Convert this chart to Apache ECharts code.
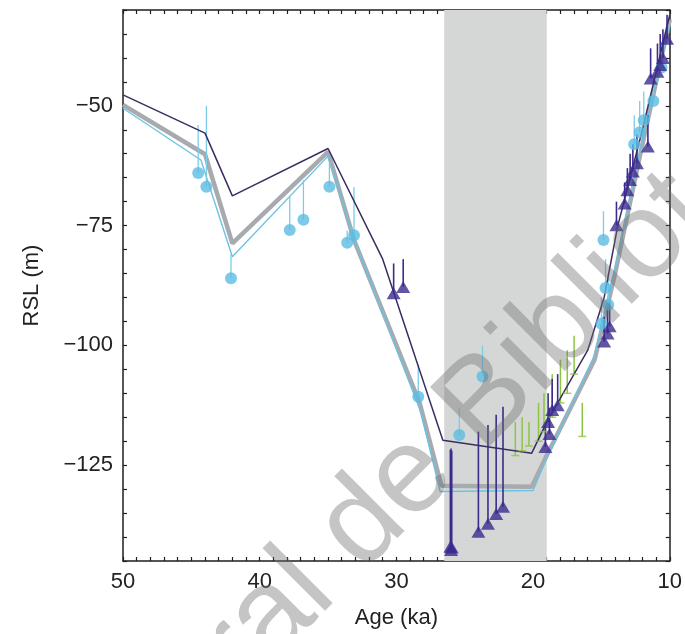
<!DOCTYPE html>
<html>
<head>
<meta charset="utf-8">
<script src="https://cdn.jsdelivr.net/npm/echarts@6/dist/echarts.min.js"></script>
<style>
  html, body { margin: 0; padding: 0; background: #fff; }
  #chart { width: 685px; height: 634px; }
</style>
</head>
<body>
<div id="chart"></div>
<script>
// --- model curves: age (ka) / RSL (m) ---
const darkAge = [50, 44, 42, 35, 31, 26.6, 20.1, 19, 16, 14.8, 13.8, 12, 10]
const darkRsl = [-47.7, -55.7, -68.8, -58.9, -82, -119.8, -122.5, -116, -101, -90, -75, -55, -31]

const greyAge = [50, 44, 42, 35, 33.1, 28.3, 26.7, 20.1, 19, 15.5, 14, 12, 10]
const greyRsl = [-49.8, -60.1, -78.7, -59.6, -78, -112, -129.3, -129.5, -123, -103, -85, -58, -32]

const blueAge = [50, 44.3, 42, 35, 33, 28.2, 26.8, 20, 19, 15.5, 14, 12, 10]
const blueRsl = [-50.5, -61.3, -81.5, -60.5, -78.5, -114, -130.5, -130.3, -123.5, -102, -84, -57, -33]

// LGM shading (ka)
const lgmStart = 26.5
const lgmEnd = 19

// --- observations ---
// light blue circles: age, RSL, upper end of error bar
const circleAge = [44.5, 43.9, 42.1, 37.8, 36.8, 34.9, 33.1, 33.6, 28.4, 25.4, 23.7, 14.85, 15.0, 14.5, 14.7, 12.6, 12.2, 11.9, 11.2, 10.6]
const circleRsl = [-64.0, -66.9, -86.0, -75.9, -73.8, -66.9, -77.0, -78.6, -110.7, -118.7, -106.5, -78.0, -95.5, -91.5, -88.0, -58.0, -55.5, -53.0, -49.0, -42.0]
const circleTop = [-54, -50, -81, -69, -65.5, -62, -67, -76, -104, -113, -100, -72, -90, -85, -82, -52, -49, -47, -43, -37]

// dark triangles: age, RSL, upper end of error bar
const triAge = [30.2, 29.5, 26.05, 26.0, 25.95, 24.0, 23.3, 22.7, 22.2, 19.1, 18.9, 18.8, 18.6, 18.2, 14.8, 14.55, 14.4, 13.9, 13.3, 13.1, 12.9, 12.7, 12.4, 11.6, 11.4, 10.9, 10.7, 10.5, 10.2]
const triRsl = [-89.1, -87.8, -142.0, -142.7, -142.2, -138.9, -137.2, -135.2, -133.7, -121.2, -116, -118.5, -113.5, -112.5, -99.2, -97.5, -96, -74.9, -70.4, -67.6, -65.5, -63.7, -62, -58.5, -44.3, -42.9, -41.5, -40, -36]
const triTop = [-82.9, -82, -121.8, -121.5, -122, -118, -116.6, -114.5, -112.8, -117, -110, -113, -107, -106, -94, -92, -91, -70, -66, -63, -60, -58, -56, -52, -38, -37, -35, -34, -31]

// green crosses: age, lower and upper end of error bar
const greenAge = [21.3, 20.8, 20.3, 19.6, 19.2, 18.6, 18.0, 17.5, 17.0, 16.4]
const greenLow = [-123, -122, -121, -120, -118, -115, -112, -110, -106, -119]
const greenHigh = [-116, -115, -116, -112, -110, -106, -103, -101, -98, -112]

const xTickLabels = [50, 40, 30, 20, 10]
const yTickLabels = [-50, -75, -100, -125]

const zip = (a, b) => a.map((v, i) => [v, b[i]])
const minus = v => String(v).replace('-', '\u2212')

function errorBars(name, ages, lows, highs, color, width, z) {
  return {
    name,
    type: 'custom',
    data: ages.map((a, i) => [a, lows[i], highs[i]]),
    encode: { x: 0, y: [1, 2] },
    silent: true,
    z,
    renderItem(params, api) {
      const p1 = api.coord([api.value(0), api.value(1)])
      const p2 = api.coord([api.value(0), api.value(2)])
      return {
        type: 'line',
        shape: { x1: p1[0], y1: p1[1], x2: p2[0], y2: p2[1] },
        style: { stroke: color, lineWidth: width },
      }
    },
  }
}

const FONT = '"Liberation Sans", Arial, sans-serif'
const AXIS_COLOR = '#1e1e1e'

const xBase = {
  type: 'value',
  min: 10,
  max: 50,
  interval: 1,
  inverse: true,
  splitLine: { show: false },
  axisLine: { onZero: false, lineStyle: { color: AXIS_COLOR, width: 1.5 } },
  axisTick: { inside: true, length: 4, lineStyle: { color: AXIS_COLOR, width: 1.2 } },
}
const yBase = {
  type: 'value',
  min: -145,
  max: -30,
  interval: 5,
  splitLine: { show: false },
  axisLine: { onZero: false, lineStyle: { color: AXIS_COLOR, width: 1.5 } },
  axisTick: { inside: true, length: 4, lineStyle: { color: AXIS_COLOR, width: 1.2 } },
}

const chart = echarts.init(document.getElementById('chart'))

chart.setOption({
  animation: false,
  backgroundColor: '#fff',
  grid: { left: 123, right: 9, top: 10, bottom: 73 },
  xAxis: [
    {
      ...xBase,
      position: 'bottom',
      name: 'Age (ka)',
      nameLocation: 'middle',
      nameGap: 46,
      nameTextStyle: { fontFamily: FONT, fontSize: 22, color: '#222' },
      axisLabel: {
        margin: 10,
        fontFamily: FONT,
        fontSize: 22,
        color: '#222',
        formatter: v => (xTickLabels.includes(v) ? String(v) : ''),
      },
    },
    { ...xBase, position: 'top', axisLabel: { show: false } },
  ],
  yAxis: [
    {
      ...yBase,
      position: 'left',
      name: 'RSL (m)',
      nameLocation: 'middle',
      nameGap: 80,
      nameTextStyle: { fontFamily: FONT, fontSize: 22, color: '#222' },
      axisLabel: {
        margin: 10,
        fontFamily: FONT,
        fontSize: 22,
        color: '#222',
        formatter: v => (yTickLabels.includes(v) ? minus(v) : ''),
      },
    },
    { ...yBase, position: 'right', axisLabel: { show: false } },
  ],
  series: [
    {
      name: 'LGM',
      type: 'line',
      data: [[lgmStart, -140], [lgmEnd, -140]],
      symbol: 'none',
      lineStyle: { opacity: 0 },
      silent: true,
      z: 1,
      markArea: {
        silent: true,
        itemStyle: { color: '#d5d7d7' },
        data: [[{ xAxis: lgmStart }, { xAxis: lgmEnd }]],
      },
    },
    {
      name: 'model grey',
      type: 'line',
      data: zip(greyAge, greyRsl),
      symbol: 'none',
      lineStyle: { color: '#a7aaae', width: 4.5 },
      z: 2,
    },
    {
      name: 'model blue',
      type: 'line',
      data: zip(blueAge, blueRsl),
      symbol: 'none',
      lineStyle: { color: '#6cc3e3', width: 1.4 },
      z: 3,
    },
    errorBars('circle bars', circleAge, circleRsl, circleTop, '#7ccbe8', 1.3, 4),
    errorBars('green bars', greenAge, greenLow, greenHigh, '#8cc63f', 1.5, 4),
    errorBars('triangle bars', triAge, triRsl, triTop, '#3b2c8c', 1.6, 5),
    {
      name: 'model dark',
      type: 'line',
      data: zip(darkAge, darkRsl),
      symbol: 'none',
      lineStyle: { color: '#3a2d63', width: 1.5 },
      z: 6,
    },
    {
      name: 'circles',
      type: 'scatter',
      data: zip(circleAge, circleRsl),
      symbol: 'circle',
      symbolSize: 12,
      itemStyle: { color: '#5bbde2' },
      z: 7,
    },
    {
      name: 'green',
      type: 'scatter',
      data: zip(greenAge, greenLow),
      symbol: 'rect',
      symbolSize: [8, 1.5],
      itemStyle: { color: '#8cc63f' },
      z: 7,
    },
    {
      name: 'triangles',
      type: 'scatter',
      data: zip(triAge, triRsl),
      symbol: 'triangle',
      symbolSize: [14, 12],
      itemStyle: { color: '#3b2a8e' },
      z: 8,
    },
  ],
  graphic: [
    {
      type: 'text',
      x: 480,
      y: 408,
      rotation: Math.PI / 4,
      z: 100,
      silent: true,
      style: {
        text: 'ral de Bibliote',
        font: '122px "Liberation Sans", Arial, sans-serif',
        fill: 'rgba(110,110,110,0.4)',
        align: 'center',
        verticalAlign: 'middle',
      },
    },
  ],
})
</script>
</body>
</html>
